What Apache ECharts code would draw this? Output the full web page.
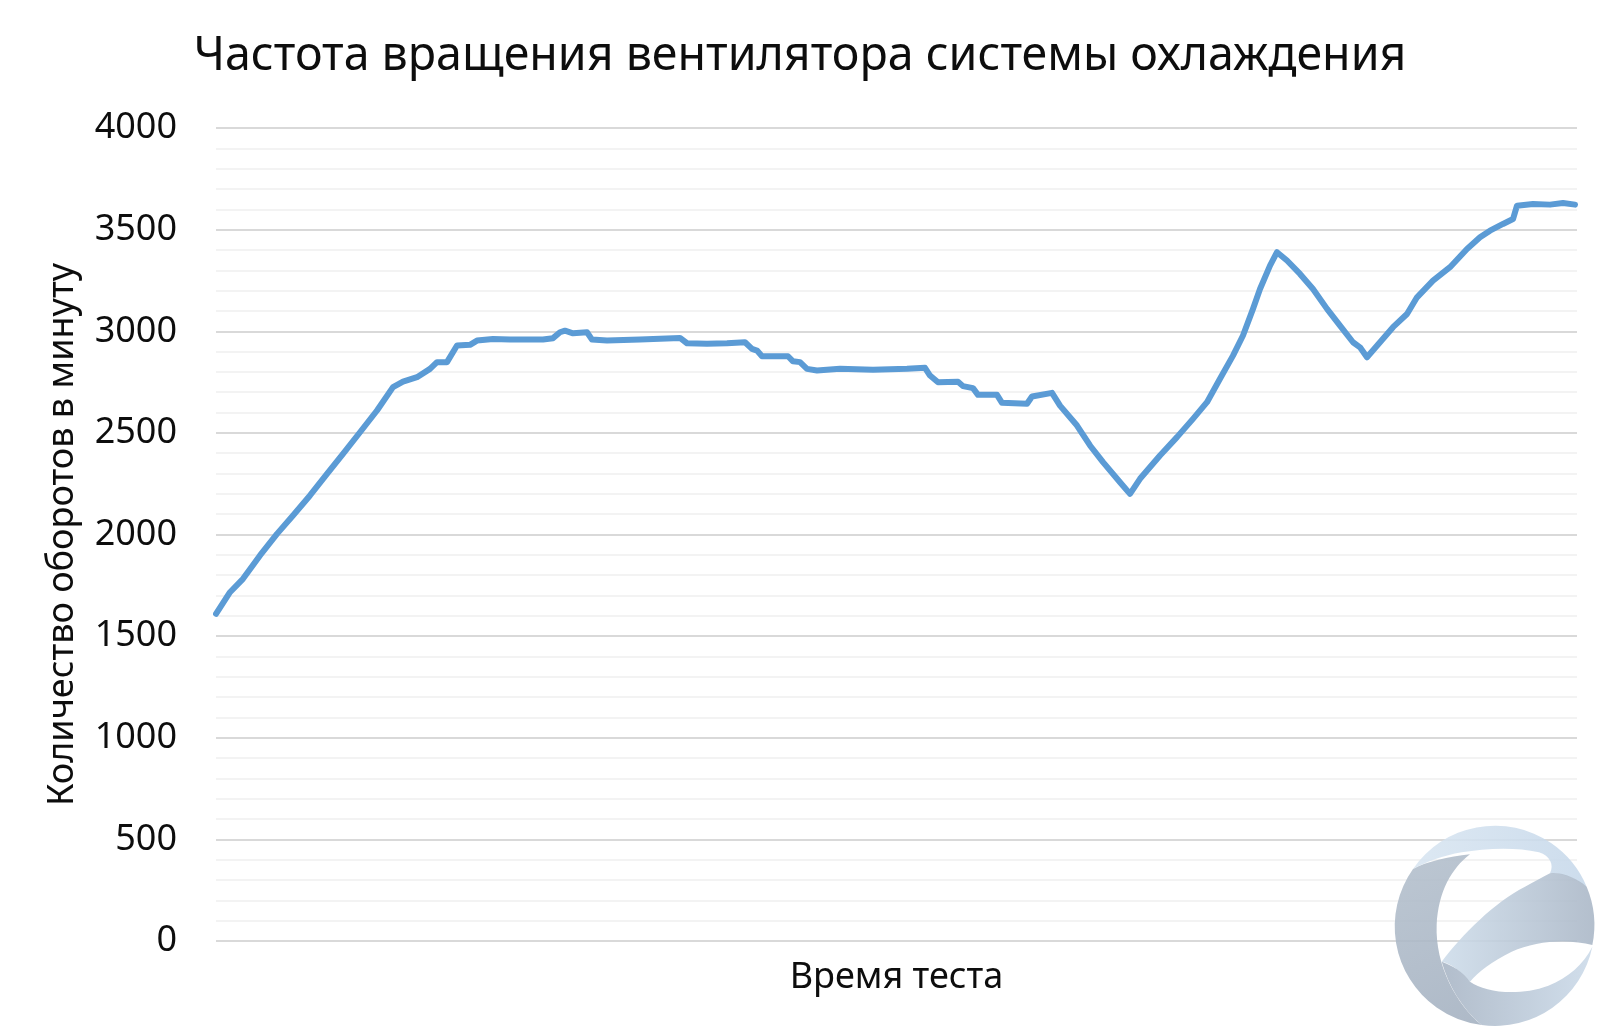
<!DOCTYPE html>
<html>
<head>
<meta charset="utf-8">
<script src="https://cdn.jsdelivr.net/npm/echarts@6/dist/echarts.min.js"></script>
<style>
html,body{margin:0;padding:0;background:#fff;}
#chart{width:1600px;height:1032px;}
</style>
</head>
<body>
<div id="chart"></div>
<script>
// Test time (sample positions) and fan speed readings (rpm)
const testTime = [0,14,27,44,61,77,94,111,127,144,161,177,187,201,214,221,231,241,254,261,277,294,327,337,344,349,357,371,376,391,424,464,471,491,511,529,536,541,546,572,577,584,591,601,624,657,691,709,714,722,742,747,757,762,781,786,811,816,836,844,861,874,887,904,914,924,944,961,977,991,1004,1017,1027,1037,1044,1054,1061,1071,1084,1097,1111,1124,1137,1144,1151,1164,1177,1191,1201,1217,1234,1251,1264,1274,1287,1297,1301,1317,1334,1347,1359];
const fanRpm = [1610,1716,1782,1897,2003,2093,2192,2298,2397,2503,2610,2725,2752,2774,2815,2848,2848,2930,2933,2954,2962,2959,2959,2966,2995,3003,2990,2995,2959,2954,2959,2967,2941,2938,2941,2946,2913,2905,2877,2877,2852,2848,2815,2807,2815,2811,2815,2820,2782,2749,2752,2730,2720,2687,2687,2648,2643,2679,2697,2634,2536,2438,2356,2257,2200,2274,2389,2479,2569,2651,2766,2880,2979,3110,3208,3323,3389,3348,3282,3208,3110,3028,2946,2921,2872,2946,3020,3085,3167,3249,3315,3405,3462,3495,3528,3552,3618,3626,3623,3631,3623];
const yTicks = [0,500,1000,1500,2000,2500,3000,3500,4000];
const titleText = 'Частота вращения вентилятора системы охлаждения';
const xName = 'Время теста';
const yName = 'Количество оборотов в минуту';

const FONT = 'Noto Sans';
const chart = echarts.init(document.getElementById('chart'), null, {renderer:'canvas'});
const seriesData = testTime.map((t,i)=>[t, fanRpm[i]]);

// watermark logo shapes (decoration only), drawn in a local 645x651 box
const grad = (x2,y2,c1,c2)=>({type:'linear',x:0,y:0,x2:x2,y2:y2,colorStops:[{offset:0,color:c1},{offset:1,color:c2}]});
const logoShapes = [
  {d:'M84,162 A298,298 0 0 0 290,630 C215,570 150,450 155,330 C160,230 200,160 255,118 C190,125 125,140 84,162 Z',
   fill:grad(1,1,'#b3bfcc','#a3b0c0')},
  {d:'M84,162 A298,298 0 0 1 605,215 C570,190 530,172 495,175 C508,150 495,122 462,112 C390,95 300,100 230,112 C175,122 125,140 84,162 Z',
   fill:grad(1,0,'#d8e5f1','#c6d8ea')},
  {d:'M495,175 C530,170 575,190 605,215 A298,298 0 0 1 622,390 C555,372 455,375 380,410 C320,440 280,470 255,500 C225,465 195,445 170,440 C230,360 330,260 420,215 C450,200 475,185 495,175 Z',
   fill:grad(1,0,'#cddcea','#a9b6c6')},
  {d:'M170,440 C200,450 235,470 255,500 C300,532 400,545 490,512 C550,488 595,448 622,395 A298,298 0 0 1 290,630 C230,580 190,510 170,440 Z',
   fill:grad(1,0,'#a7b4c4','#cbdae9')}
];

const option = {
  backgroundColor:'#ffffff',
  animation:false,
  title:{
    text:titleText,
    left:'center',
    top:28,
    textStyle:{fontFamily:FONT,fontSize:46.5,fontWeight:'normal',color:'#0d0d0d'}
  },
  grid:{left:216,right:23,top:128,bottom:91,containLabel:false,outerBoundsMode:'none'},
  xAxis:{
    type:'value',
    min:0,
    max:1361,
    name:xName,
    nameLocation:'middle',
    nameGap:19,
    nameTextStyle:{fontFamily:FONT,fontSize:36,color:'#0d0d0d'},
    axisLine:{show:false},
    axisTick:{show:false},
    axisLabel:{show:false},
    splitLine:{show:false}
  },
  yAxis:{
    type:'value',
    min:yTicks[0],
    max:yTicks[yTicks.length-1],
    interval:500,
    name:yName,
    nameLocation:'middle',
    nameGap:135,
    nameRotate:90,
    nameTextStyle:{fontFamily:FONT,fontSize:36,color:'#0d0d0d'},
    axisLine:{show:false},
    axisTick:{show:false},
    axisLabel:{fontFamily:FONT,fontSize:36,color:'#0d0d0d',margin:39,formatter:v=>String(v)},
    splitLine:{show:true,lineStyle:{color:'#d9d9d9',width:2}},
    minorTick:{show:false,splitNumber:5},
    minorSplitLine:{show:true,lineStyle:{color:'#efefef',width:1.5}}
  },
  series:[{
    type:'line',
    data:seriesData,
    showSymbol:false,
    smooth:false,
    lineStyle:{color:'#5b9bd5',width:6,cap:'round',join:'round'},
    z:3
  },{
    type:'custom',
    coordinateSystem:'none',
    silent:true,
    z:10,
    data:[[0]],
    renderItem:function(){
      return {type:'group',x:1385,y:815,scaleX:1/3,scaleY:1/3,children:logoShapes.map(s=>({
        type:'path',
        shape:{pathData:s.d},
        style:{fill:s.fill,opacity:0.88}
      }))};
    }
  }]
};
chart.setOption(option);
</script>
</body>
</html>
